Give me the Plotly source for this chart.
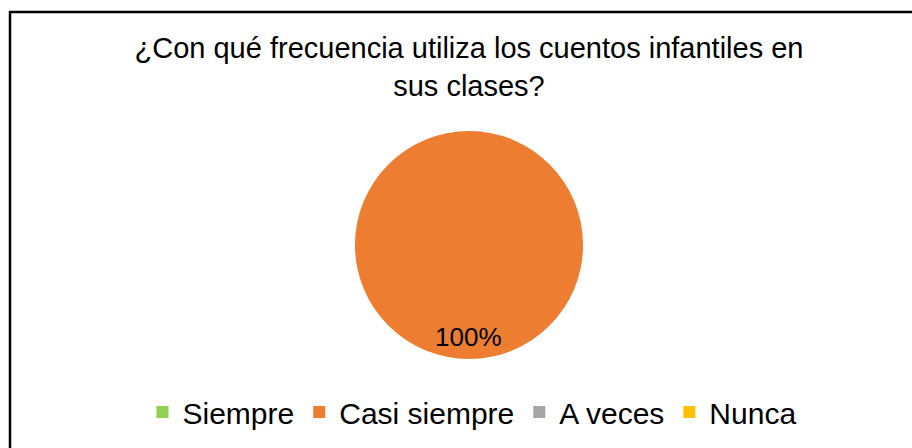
import plotly.graph_objects as go

# respuestas
categorias = ["Siempre", "Casi siempre", "A veces", "Nunca"]
valores = [0, 100, 0, 0]
colores = ["#92D050", "#ED7D31", "#A5A5A5", "#FFC000"]

W, H = 912, 448

fig = go.Figure()
fig.add_trace(go.Pie(
    labels=categorias,
    values=valores,
    marker=dict(colors=colores),
    sort=False,
    direction="clockwise",
    textinfo="none",
    hoverinfo="label+percent",
    domain=dict(x=[355 / W, 583 / W], y=[1 - 359 / H, 1 - 131 / H]),
))

# etiqueta del porcentaje (solo la categoria con valor)
total = sum(valores)
for cat, v in zip(categorias, valores):
    if v > 0:
        fig.add_annotation(
            x=469 / W, y=1 - 354 / H, xref="paper", yref="paper",
            text=f"{round(v / total * 100)}%", showarrow=False,
            font=dict(size=26, color="#000000"),
        )

fig.update_layout(
    width=W, height=H,
    margin=dict(l=0, r=0, t=0, b=0),
    paper_bgcolor="white",
    font=dict(family="Liberation Sans, Arial, sans-serif", color="#000000"),
    title=dict(
        text="¿Con qué frecuencia utiliza los cuentos infantiles en<br>sus clases?",
        x=469 / W, xanchor="center", y=1 - 58 / H, yanchor="middle",
        font=dict(size=29, color="#000000"),
    ),
    legend=dict(
        orientation="h", x=472 / W, xanchor="center", y=1 - 412 / H, yanchor="middle",
        font=dict(size=30), itemclick=False,
    ),
    shapes=[dict(
        type="rect", xref="paper", yref="paper",
        x0=10 / W, x1=1.05, y0=-0.05, y1=1 - 12 / H,
        line=dict(color="#000000", width=2.5),
    )],
)

# quitar el margen del body para que la figura ocupe la ventana
fig.write_html("out.html", config={"displayModeBar": False},
               post_script="document.body.style.margin='0';")
